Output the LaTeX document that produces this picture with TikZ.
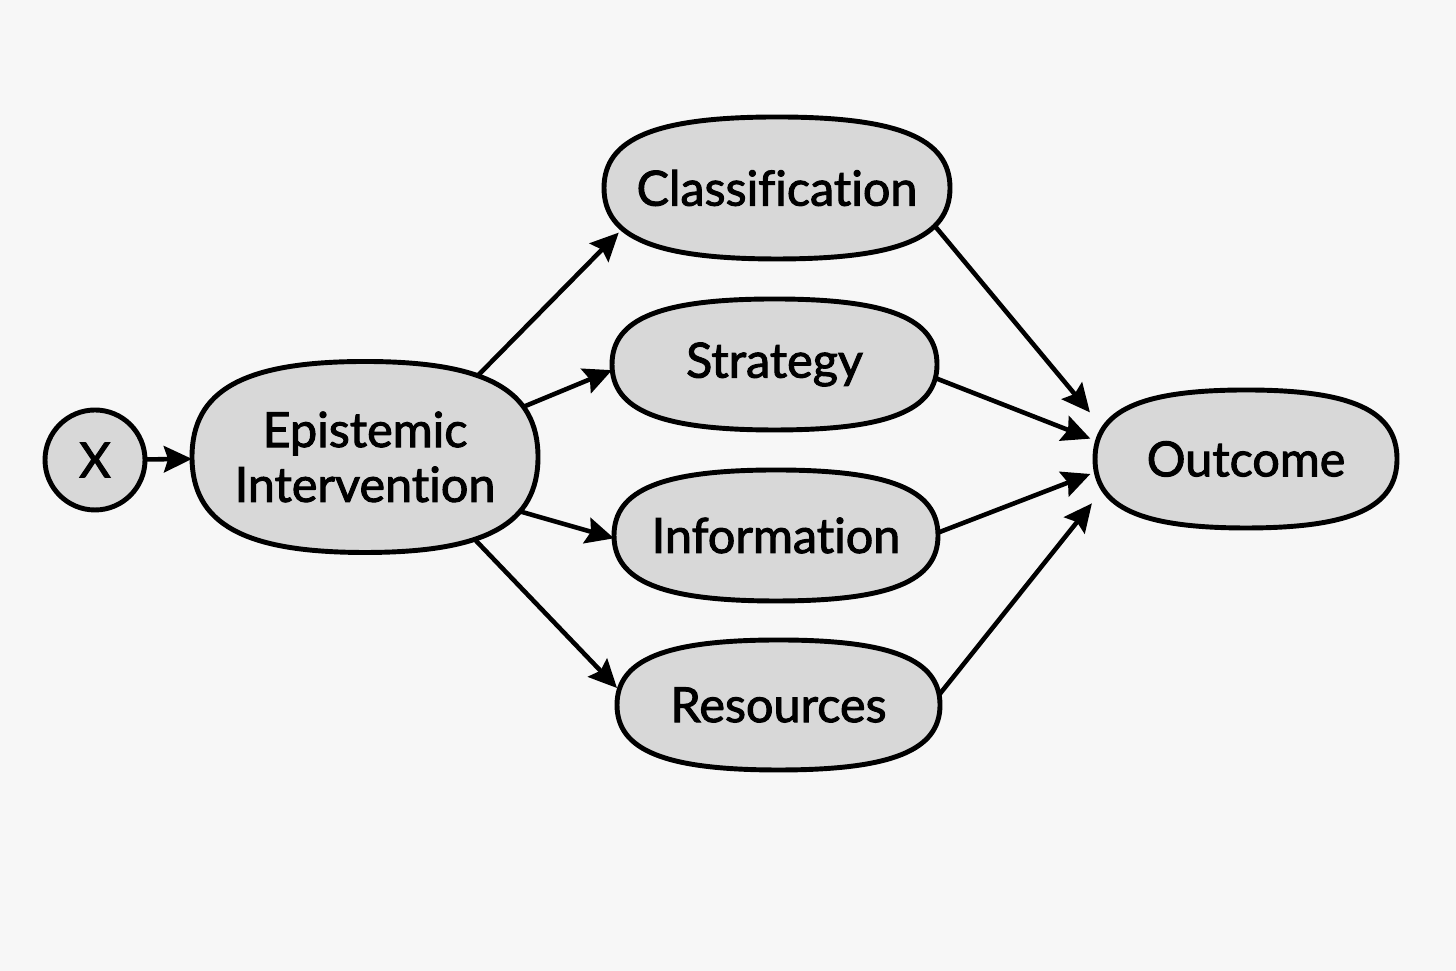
\documentclass[tikz,border=0pt]{standalone}
\usepackage{fontspec}
\newfontfamily\nodefont{Lato}[Ligatures=NoCommon, FakeBold=2]
\usetikzlibrary{arrows.meta, backgrounds, calc}

\definecolor{pagebg}{HTML}{F7F7F7}
\definecolor{nodegray}{HTML}{D8D8D8}

\begin{document}
\begin{tikzpicture}[x=1cm, y=1cm,
  every node/.style = {inner sep=0pt, outer sep=0pt, align=center,
    font=\nodefont\fontsize{13.8}{15.6}\selectfont},
  bubble/.style = {shape=rectangle},
  blob/.style = {draw, fill=nodegray, line width=1.4pt},
  link/.style = {line width=1.3pt, -{Stealth[length=8pt, width=7.5pt, inset=1.2pt]},
    shorten <=-0.3cm}]
  \useasboundingbox (0,0) rectangle (14.56,9.71);

  \node[circle, blob, minimum size=1.0cm] (x) at (0.95,5.11) {X};
  \node[bubble, minimum width=3.46cm, minimum height=1.91cm] (epi) at (3.65,5.14) {Epistemic\\Intervention};
  \node[bubble, minimum width=3.46cm, minimum height=1.42cm] (cls) at (7.77,7.83) {Classification};
  \node[bubble, minimum width=3.25cm, minimum height=1.31cm] (str) at (7.745,6.065) {Strategy};
  \node[bubble, minimum width=3.24cm, minimum height=1.31cm] (inf) at (7.76,4.355) {Information};
  \node[bubble, minimum width=3.23cm, minimum height=1.30cm] (res) at (7.785,2.66) {Resources};
  \node[bubble, minimum width=3.02cm, minimum height=1.38cm] (out) at (12.46,5.12) {Outcome};

  \begin{scope}[on background layer]
    \fill[pagebg] (0,0) rectangle (14.56,9.71);
    \draw[link] (x) -- (epi);
    % from the intervention to the four channels
    \draw[link, shorten >=-0.21cm] (epi.37.2) -- (cls.199.7);
    \draw[link] (epi.18.7) -- (str.182.4);
    \draw[link] (epi.341.2) -- (inf.181);
    \draw[link] (epi.322.4) -- (res.174.7);
    % from the channels to the outcome
    \draw[link, shorten >=0.08cm] (cls.342.2) -- (out.165.9);
    \draw[link, shorten >=0.05cm] (str.355.2) -- (out.173.6);
    \draw[link, shorten >=0.05cm] (inf.1) -- (out.185.3);
    \draw[link, shorten >=0.05cm] (res.4.25) -- (out.195.6);
    % squircle outline round each text
    \foreach \n in {epi,cls,str,inf,res,out}
      \filldraw[blob] (\n.north)
        .. controls ($(\n.north)!0.7!(\n.north east)$) and ($(\n.east)!0.7!(\n.north east)$) .. (\n.east)
        .. controls ($(\n.east)!0.7!(\n.south east)$) and ($(\n.south)!0.7!(\n.south east)$) .. (\n.south)
        .. controls ($(\n.south)!0.7!(\n.south west)$) and ($(\n.west)!0.7!(\n.south west)$) .. (\n.west)
        .. controls ($(\n.west)!0.7!(\n.north west)$) and ($(\n.north)!0.7!(\n.north west)$) .. (\n.north)
        -- cycle;
  \end{scope}
\end{tikzpicture}
\end{document}
